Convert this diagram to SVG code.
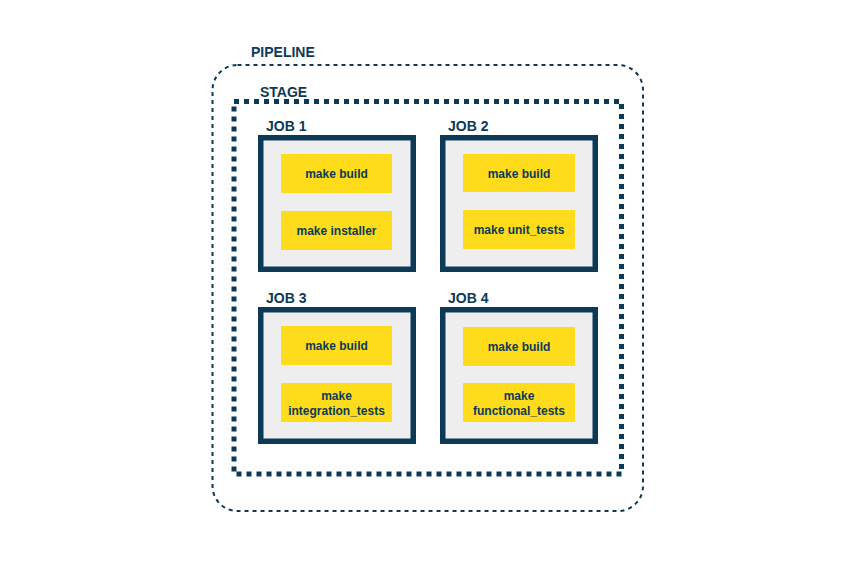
<svg xmlns="http://www.w3.org/2000/svg" width="848" height="569" viewBox="0 0 848 569">
<style>
.lbl{font-family:"Liberation Sans",Arial,sans-serif;font-weight:bold;font-size:14px;fill:#0c3a56}
.t{font-family:"Liberation Sans",Arial,sans-serif;font-weight:bold;font-size:12px;fill:#0c3a56;text-anchor:middle}
.job{fill:#eeeeee;stroke:#0c3a56;stroke-width:5.5}
.task{fill:#fedc1b}
</style>
<rect width="848" height="569" fill="#ffffff"/>
<g id="pipeline">
<rect x="212.5" y="65" width="430.5" height="446" rx="25" fill="none" stroke="#0c3a56" stroke-width="2" stroke-dasharray="4 4"/>
<text class="lbl" x="251" y="57">PIPELINE</text>
</g>
<g id="stage">
<rect x="234" y="101.5" width="387.5" height="372.5" fill="none" stroke="#0c3a56" stroke-width="5" stroke-dasharray="5 5"/>
<text class="lbl" x="260" y="97">STAGE</text>
</g>
<g id="job1">
<text class="lbl" x="266" y="131">JOB 1</text>
<rect class="job" x="260.75" y="137.75" width="152.5" height="131.5"/>
<rect class="task" x="281" y="154" width="111" height="39"/>
<text class="t" x="336.5" y="178">make build</text>
<rect class="task" x="281" y="211" width="111" height="39"/>
<text class="t" x="336.5" y="235">make installer</text>
</g>
<g id="job2">
<text class="lbl" x="448" y="131">JOB 2</text>
<rect class="job" x="442.75" y="137.75" width="152.5" height="131.5"/>
<rect class="task" x="463" y="154" width="112" height="38"/>
<text class="t" x="519" y="177.5">make build</text>
<rect class="task" x="463" y="210" width="112" height="39"/>
<text class="t" x="519" y="234">make unit_tests</text>
</g>
<g id="job3">
<text class="lbl" x="266" y="303">JOB 3</text>
<rect class="job" x="260.75" y="309.75" width="152.5" height="131.5"/>
<rect class="task" x="281" y="326" width="111" height="39"/>
<text class="t" x="336.5" y="350">make build</text>
<rect class="task" x="281" y="383" width="111" height="39"/>
<text class="t" x="336.5" y="400">make</text>
<text class="t" x="336.5" y="414.5">integration_tests</text>
</g>
<g id="job4">
<text class="lbl" x="448" y="303">JOB 4</text>
<rect class="job" x="442.75" y="309.75" width="152.5" height="131.5"/>
<rect class="task" x="463" y="327" width="112" height="39"/>
<text class="t" x="519" y="351">make build</text>
<rect class="task" x="463" y="383" width="112" height="39"/>
<text class="t" x="519" y="400">make</text>
<text class="t" x="519" y="414.5">functional_tests</text>
</g>
<g id="connectors"/>
</svg>
